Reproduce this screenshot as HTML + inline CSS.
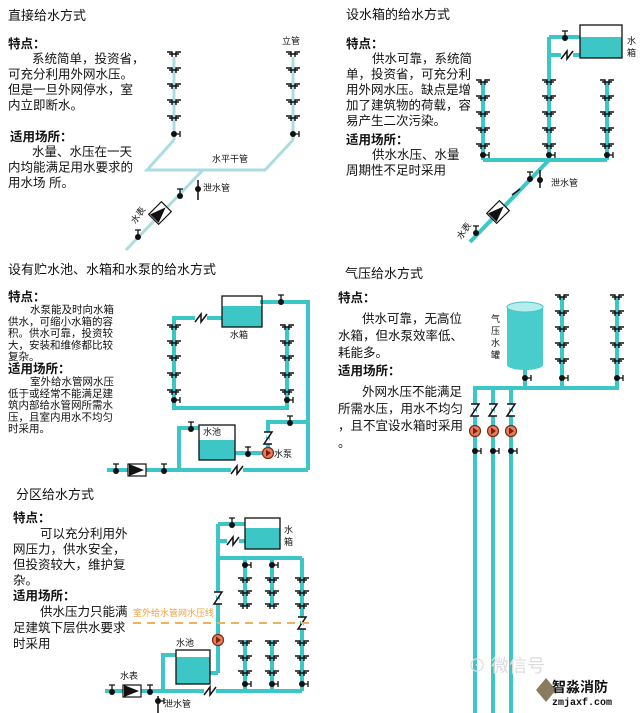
<!DOCTYPE html>
<html><head><meta charset="utf-8"><style>
body{margin:0;background:#fff}
svg{display:block}
text{font-family:"Liberation Sans","Noto Sans CJK SC",sans-serif;fill:#111}
.t{font-size:13px}
.b{font-size:12.5px}
.s{font-size:9px}
</style></head><body>
<svg id="s" width="640" height="713" viewBox="0 0 640 713" xmlns="http://www.w3.org/2000/svg">
<g id="g"></g>
<text class="t" x="8" y="20">直接给水方式</text>
<text class="b" x="8" y="48" font-weight="bold">特点：</text>
<text class="b" x="8" y="63"><tspan x="32">系统简单，投资省，</tspan><tspan x="8" dy="15.5">可充分利用外网水压。</tspan><tspan x="8" dy="15.5">但是一旦外网停水，室</tspan><tspan x="8" dy="15.5">内立即断水。</tspan></text>
<text class="b" x="10" y="141" font-weight="bold">适用场所：</text>
<text class="b" x="8" y="156"><tspan x="32">水量、水压在一天</tspan><tspan x="8" dy="15.5">内均能满足用水要求的</tspan><tspan x="8" dy="15.5">用水场  所。</tspan></text>
<text class="s" x="282" y="44">立管</text>
<text class="s" x="212" y="162">水平干管</text>
<text class="s" x="203" y="191">泄水管</text>
<text class="s" x="130" y="222" transform="rotate(-55 135 218)">水表</text>

<text class="t" x="346" y="19">设水箱的给水方式</text>
<text class="b" x="346" y="48" font-weight="bold">特点：</text>
<text class="b" x="346" y="63"><tspan x="372">供水可靠，系统简</tspan><tspan x="346" dy="15.5">单，投资省，可充分利</tspan><tspan x="346" dy="15.5">用外网水压。缺点是增</tspan><tspan x="346" dy="15.5">加了建筑物的荷载，容</tspan><tspan x="346" dy="15.5">易产生二次污染。</tspan></text>
<text class="b" x="346" y="144" font-weight="bold">适用场所：</text>
<text class="b" x="346" y="159"><tspan x="372">供水水压、水量</tspan><tspan x="346" dy="15.5">周期性不足时采用</tspan></text>
<text class="s" x="627" y="44">水</text><text class="s" x="627" y="56">箱</text>
<text class="s" x="551" y="186">泄水管</text>
<text class="s" x="455" y="236" transform="rotate(-55 462 232)">水表</text>

<text class="t" x="8" y="274">设有贮水池、水箱和水泵的给水方式</text>
<text class="b" x="8" y="301" font-weight="bold">特点：</text>
<text class="b" x="8" y="313" style="font-size:10.5px"><tspan x="30">水泵能及时向水箱</tspan><tspan x="8" dy="11.8">供水，可缩小水箱的容</tspan><tspan x="8" dy="11.8">积。供水可靠，投资较</tspan><tspan x="8" dy="11.8">大，安装和维修都比较</tspan><tspan x="8" dy="11.8">复杂。</tspan></text>
<text class="b" x="8" y="373" font-weight="bold">适用场所：</text>
<text class="b" x="8" y="385" style="font-size:10.5px"><tspan x="30">室外给水管网水压</tspan><tspan x="8" dy="11.8">低于或经常不能满足建</tspan><tspan x="8" dy="11.8">筑内部给水管网所需水</tspan><tspan x="8" dy="11.8">压，且室内用水不均匀</tspan><tspan x="8" dy="11.8">时采用。</tspan></text>
<text class="s" x="230" y="338">水箱</text>
<text class="s" x="203" y="435">水池</text>
<text class="s" x="274" y="457">水泵</text>

<text class="t" x="345" y="278">气压给水方式</text>
<text class="b" x="338" y="302" font-weight="bold">特点：</text>
<text class="b" x="338" y="323"><tspan x="362">供水可靠，无高位</tspan><tspan x="338" dy="17">水箱，但水泵效率低、</tspan><tspan x="338" dy="17">耗能多。</tspan></text>
<text class="b" x="338" y="375" font-weight="bold">适用场所：</text>
<text class="b" x="338" y="396"><tspan x="362">外网水压不能满足</tspan><tspan x="338" dy="17">所需水压，用水不均匀</tspan><tspan x="338" dy="17">，且不宜设水箱时采用</tspan><tspan x="338" dy="17">。</tspan></text>
<text class="s" x="491" y="322">气</text><text class="s" x="491" y="334">压</text><text class="s" x="491" y="346">水</text><text class="s" x="491" y="358">罐</text>

<text class="t" x="16" y="499">分区给水方式</text>
<text class="b" x="13" y="522" font-weight="bold">特点：</text>
<text class="b" x="13" y="538"><tspan x="40">可以充分利用外</tspan><tspan x="13" dy="15.5">网压力，供水安全，</tspan><tspan x="13" dy="15.5">但投资较大，维护复</tspan><tspan x="13" dy="15.5">杂。</tspan></text>
<text class="b" x="13" y="600" font-weight="bold">适用场所：</text>
<text class="b" x="13" y="616"><tspan x="40">供水压力只能满</tspan><tspan x="13" dy="16">足建筑下层供水要求</tspan><tspan x="13" dy="16">时采用</tspan></text>
<text x="133" y="616" style="font-size:9px;fill:#f0a040">室外给水管网水压线</text>
<line x1="133" y1="623" x2="310" y2="623" stroke="#f0b060" stroke-width="2" stroke-dasharray="8,6"/>
<text class="s" x="284" y="533">水</text><text class="s" x="284" y="545">箱</text>
<text class="s" x="176" y="646">水池</text>
<text class="s" x="120" y="679">水表</text>
<text class="s" x="164" y="707">泄水管</text>

<text x="468" y="672" style="font-size:18px;fill:#ddd">⊙ 微信号</text>
<path d="M536 690 l10 -12 l10 12 l-10 12z" fill="#8a7a60"/>
<text x="552" y="692" style="font-size:14px;font-weight:bold">智淼消防</text>
<text x="552" y="705" style="font-size:10px;font-weight:bold;font-family:'Liberation Mono',monospace">zmjaxf.com</text>
</svg>
<script>
var g=document.getElementById('g'),h='';
var T='#3cc6c6',L='#abdde0';
function ln(x1,y1,x2,y2,c,w){h+='<line x1="'+x1+'" y1="'+y1+'" x2="'+x2+'" y2="'+y2+'" stroke="'+(c||T)+'" stroke-width="'+(w||4)+'"/>';}
function pl(p,c,w){h+='<polyline points="'+p+'" fill="none" stroke="'+(c||T)+'" stroke-width="'+(w||4)+'"/>';}
function tap(x,y){h+='<path d="M'+(x-7)+' '+(y-2)+'h5v5M'+(x-5)+' '+y+'h5M'+(x+7)+' '+(y-2)+'h-5v5M'+(x+5)+' '+y+'h-5" stroke="#111" stroke-width="1.4" fill="none"/>';}
function taps(x,ys){ys.forEach(function(y){tap(x,y)});}
function dot(x,y,side){h+='<circle cx="'+x+'" cy="'+y+'" r="3" fill="#111"/>';if(side)h+='<path d="M'+x+' '+y+'h6M'+(x+6)+' '+(y-3)+'v6" stroke="#111" stroke-width="1.3"/>';}
function valve(x,y){h+='<circle cx="'+x+'" cy="'+y+'" r="3" fill="#111"/><path d="M'+x+' '+y+'v-7M'+(x-3)+' '+(y-7)+'h6" stroke="#111" stroke-width="1.3"/>';}
function box(x,y,w,hh,wy){h+='<rect x="'+x+'" y="'+wy+'" width="'+w+'" height="'+(y+hh-wy)+'" fill="'+T+'"/><rect x="'+x+'" y="'+y+'" width="'+w+'" height="'+hh+'" fill="none" stroke="#111" stroke-width="1.3"/>';}
function zv(x,y){h+='<path d="M'+(x-4)+' '+(y-6)+'h8l-8 12h8" stroke="#111" stroke-width="1.5" fill="#fff"/>';}
function zh(x,y){h+='<rect x="'+(x-6)+'" y="'+(y-5)+'" width="12" height="10" fill="#fff"/><path d="M'+(x-6)+' '+(y+4)+'l6 -8v8l6-8" stroke="#111" stroke-width="1.5" fill="none"/>';}
function pump(x,y){h+='<circle cx="'+x+'" cy="'+y+'" r="5.5" fill="#e08060" stroke="#7a2a10" stroke-width="1.2"/><path d="M'+(x-2)+' '+(y-3.5)+'l5 3.5l-5 3.5z" fill="#8a1a00"/>';}
function meter(x,y){h+='<rect x="'+(x-9)+'" y="'+(y-6)+'" width="18" height="12" fill="#fff" stroke="#111" stroke-width="1.2"/><path d="M'+(x-8)+' '+(y-6)+'l15 6l-15 6z" fill="#111"/>';}

var ys1=[54,70,86,102,118];
ln(174,57,174,140,L,3);ln(293,57,293,140,L,3);
pl('174,140 147,170 265,170 293,140',L,3);
ln(203,170,126,250,L,3);
taps(174,ys1);taps(293,ys1);dot(174,134,1);dot(293,134,1);
h+='<g transform="translate(160,213) rotate(-45)"><rect x="-9" y="-7" width="18" height="14" fill="#fff" stroke="#111" stroke-width="1.2"/><path d="M-8 -6l16 6l-16 6z" fill="#111"/></g>';
valve(180,196);valve(138,237);
ln(198,180,198,200,'#111',1.5);dot(198,189,0);

var ys2=[82,98,114,130,146];
ln(483,82,483,160);ln(607,82,607,160);ln(549,37,549,160);
ln(483,160,607,160);ln(549,37,580,37);ln(549,55,580,55);
ln(549,160,470,242);
box(580,25,42,33,37);
taps(483,ys2);taps(549,ys2);taps(607,ys2);
dot(483,155,1);dot(549,155,1);dot(607,155,1);
valve(565,38);zh(567,55);
valve(530,179);ln(540,170,540,188,'#111',1.5);dot(540,180,0);
h+='<path d="M512 195l8 -6" stroke="#111" stroke-width="1.5" fill="none"/>';
h+='<g transform="translate(498,212) rotate(-45)"><rect x="-9" y="-7" width="18" height="14" fill="#fff" stroke="#111" stroke-width="1.2"/><path d="M-8 -6l16 6l-16 6z" fill="#111"/></g>';
valve(476,233);

var ys3=[327,343,358,375,392];
pl('222,318 174,318 174,408 287,408 287,327');
pl('260,302 308,302 308,470');pl('107,470 308,470');
pl('179,470 179,428 199,428');pl('234,453 268,453');pl('268,453 268,422 308,422');
box(222,296,40,31,306);box(199,425,36,35,440);
taps(174,ys3);taps(287,ys3);dot(174,400,1);dot(287,400,1);
zh(201,318);valve(281,302);valve(191,429);valve(248,454);valve(290,423);
zv(268,438);pump(268,453);
valve(116,471);meter(137,470);valve(164,471);zh(237,470);

var ys4=[297,313,329,345,361];
ln(562,297,562,388);ln(617,297,617,388);ln(525,368,525,388);
ln(473,388,619,388);
h+='<path d="M507 307 v58 a18 5 0 0 0 36 0 v-58z" fill="#48cccc"/><ellipse cx="525" cy="307" rx="18" ry="5" fill="#b5ecec" stroke="#48c4c4"/>';
taps(562,ys4);taps(617,ys4);dot(525,378,1);dot(562,378,1);dot(617,378,1);
[475,493,511].forEach(function(x){ln(x,388,x,713);zv(x,410);pump(x,431);dot(x,451,1);});

pl('218,524 245,524');ln(218,541,245,541);ln(218,524,218,673);ln(218,558,302,558);
ln(302,558,302,691);ln(245,558,245,606);ln(272,558,272,606);
ln(245,640,245,691);ln(272,640,272,691);
ln(105,691,302,691);pl('163,691 163,655 176,655');pl('210,673 218,673');
box(245,518,35,31,528);box(176,650,34,34,657);
[580,593,606].forEach(function(y){tap(245,y);tap(272,y);tap(302,y);});
[643,658,673].forEach(function(y){tap(245,y);tap(272,y);tap(302,y);});
dot(245,565,1);dot(272,565,1);dot(245,684,1);dot(272,684,1);dot(302,684,1);
valve(232,525);zh(233,541);zv(218,598);zv(302,623);pump(218,640);
valve(112,692);meter(132,691);valve(150,692);zh(210,691);
ln(158,696,158,713,'#111',1.5);dot(158,701,1);
g.innerHTML=h;
</script>
</body></html>
